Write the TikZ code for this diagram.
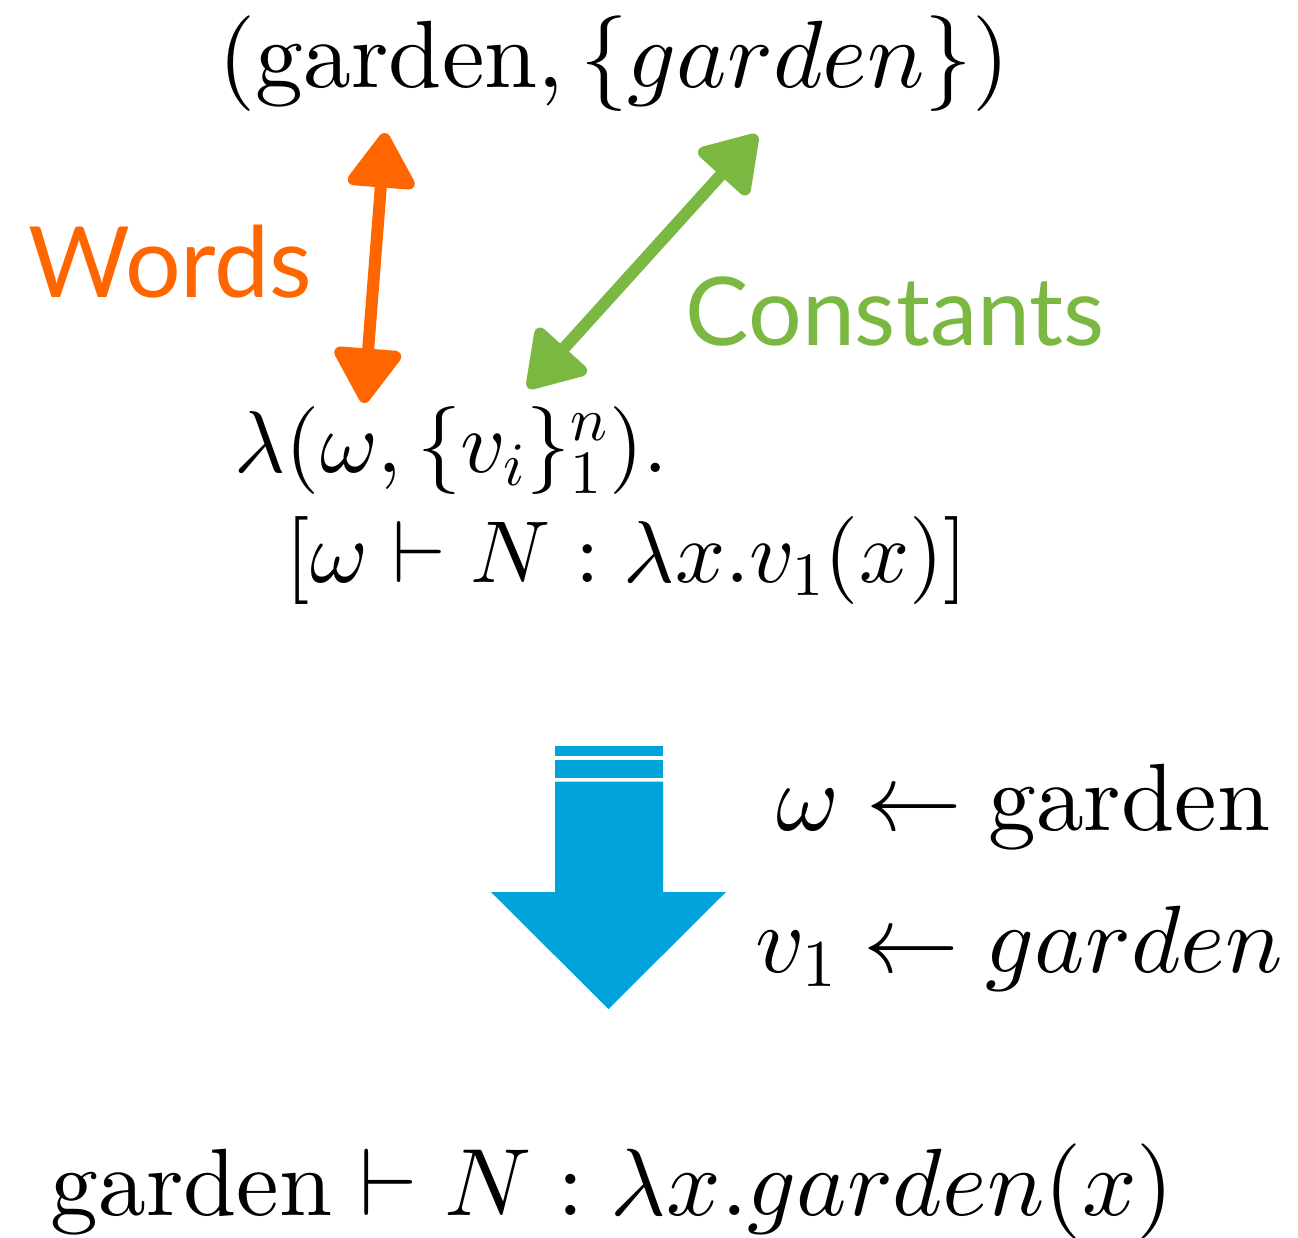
\documentclass[tikz,border=0pt]{standalone}
\usepackage{fontspec}
\usepackage{xcolor}
\usepackage{tikz}
\usetikzlibrary{arrows.meta,positioning,calc}
\setmainfont{lmroman10-regular}[Extension=.otf, ItalicFont=lmroman10-italic, BoldFont=lmroman10-bold]
\DeclareFontShape{OML}{cmm}{m}{it}{<->cmmi10}{}
\DeclareFontShape{OMS}{cmsy}{m}{n}{<->cmsy10}{}
\DeclareFontShape{OT1}{cmr}{m}{n}{<->cmr10}{}
\newfontfamily\labelfont{Lato}
\definecolor{wordsorange}{RGB}{255,102,0}
\definecolor{constgreen}{RGB}{122,184,66}
\definecolor{stepblue}{RGB}{0,163,218}

\begin{document}
\begin{tikzpicture}[
    formula/.style={anchor=base west, inner sep=0pt, font=\fontsize{27.2}{32}\selectfont},
    small formula/.style={formula, font=\fontsize{25}{30}\selectfont},
    tag/.style={anchor=base west, inner sep=0pt, font=\fontsize{28}{34}\selectfont\labelfont},
    link/.style={line width=1.2mm, {Triangle[length=6mm,width=7.4mm,round]}-{Triangle[length=6mm,width=7.4mm,round]}}
  ]
  \useasboundingbox (0,0) rectangle (12.98,-12.37);
  % formulas
  \node[formula] (pair) at (2.18,-0.87) {$(\mathrm{garden}, \{garden\})$};
  \node[small formula] (lam) at (2.34,-4.72) {$\lambda(\omega, \{v_i\}_1^n).$};
  \node[small formula] (entry) at (2.85,-5.82) {$[\omega \vdash N : \lambda x.v_1(x)]$};
  \node[formula] (subw) at (7.76,-8.30) {$\omega \leftarrow \mathrm{garden}$};
  \node[formula] (subv) at (7.55,-9.72) {$v_1 \leftarrow garden$};
  \node[formula] (result) at (0.50,-12.15) {$\mathrm{garden} \vdash N : \lambda x.garden(x)$};
  % labels
  \node[tag, text=wordsorange] (words) at (0.28,-2.97) {Words};
  \node[tag, text=constgreen, font=\fontsize{27}{32}\selectfont\labelfont] (consts) at (6.85,-3.45) {Constants};
  % double arrows
  \coordinate (wtop) at (3.85,-1.33);
  \coordinate (wbot) at (3.64,-4.03);
  \coordinate (ctop) at (7.57,-1.35);
  \coordinate (cbot) at (5.28,-3.88);
  \draw[link, wordsorange] (wbot) -- (wtop);
  \draw[link, constgreen] (cbot) -- (ctop);
  % big arrow
  \fill[stepblue] (5.55,-7.46) rectangle (6.63,-7.56);
  \fill[stepblue] (5.55,-7.60) rectangle (6.63,-7.775);
  \fill[stepblue] (5.55,-7.815) -- (6.63,-7.815) -- (6.63,-8.92) -- (7.26,-8.92)
    -- (6.085,-10.09) -- (4.91,-8.92) -- (5.55,-8.92) -- cycle;
\end{tikzpicture}
\end{document}
